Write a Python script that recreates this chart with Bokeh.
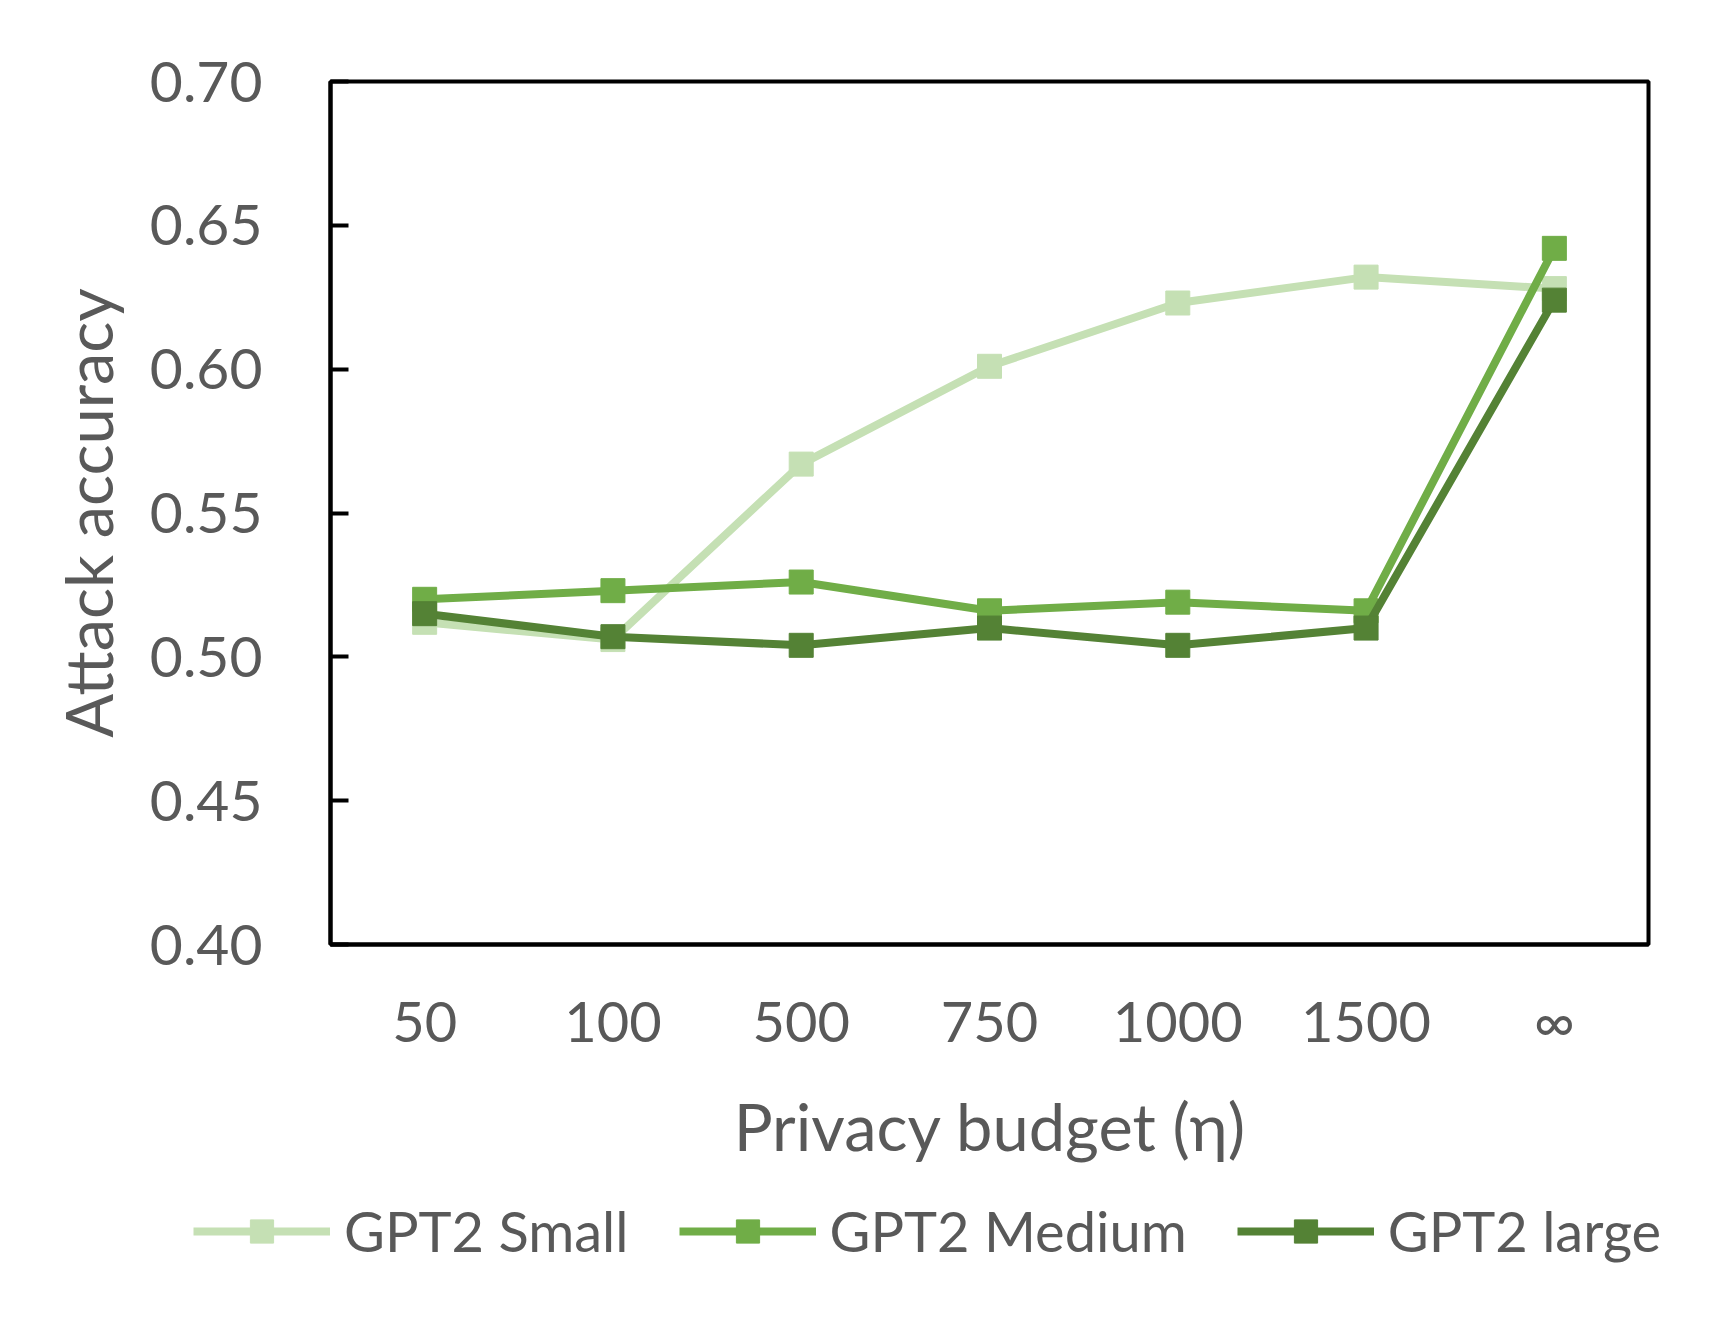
from bokeh.plotting import figure
from bokeh.layouts import column
from bokeh.models import FactorRange, Range1d, FixedTicker, NumeralTickFormatter, Legend, LegendItem
from bokeh.embed import file_html
from bokeh.resources import INLINE

budgets = ["50", "100", "500", "750", "1000", "1500", "∞"]
gpt2_small = [0.512, 0.506, 0.567, 0.601, 0.623, 0.632, 0.628]
gpt2_medium = [0.520, 0.523, 0.526, 0.516, 0.519, 0.516, 0.642]
gpt2_large = [0.515, 0.507, 0.504, 0.510, 0.504, 0.510, 0.624]
series_names = ["GPT2 Small", "GPT2 Medium", "GPT2 large"]
series_colors = ["#C5E0B4", "#70AD47", "#548235"]
y_ticks = [0.40, 0.45, 0.50, 0.55, 0.60, 0.65, 0.70]

FONT = "Lato"
TXT = "#595959"

p = figure(x_range=FactorRange(*budgets), y_range=Range1d(0.40, 0.70),
           frame_width=1318, frame_height=863,
           min_border_left=330, min_border_right=57, min_border_top=81, min_border_bottom=246,
           output_backend="svg", toolbar_location=None,
           background_fill_color="white", border_fill_color="white")

p.xgrid.visible = False
p.ygrid.visible = False
p.outline_line_color = "black"
p.outline_line_width = 4
p.outline_line_alpha = 1.0

for vals, col in zip([gpt2_small, gpt2_medium, gpt2_large], series_colors):
    p.line(budgets, vals, line_color=col, line_width=8)
    p.scatter(budgets, vals, marker="square", size=24, fill_color=col, line_color=col)

# y axis
ya = p.yaxis[0]
ya.ticker = FixedTicker(ticks=y_ticks)
ya.formatter = NumeralTickFormatter(format="0.00")
ya.major_tick_in = 18
ya.major_tick_out = 0
ya.minor_tick_line_color = None
ya.major_tick_line_width = 4
ya.axis_line_width = 4
ya.axis_line_color = "black"
ya.major_tick_line_color = "black"
ya.major_label_standoff = 68
ya.major_label_text_font = FONT
ya.major_label_text_font_size = "57px"
ya.major_label_text_color = TXT
ya.axis_label = "Attack accuracy"
ya.axis_label_text_font = FONT
ya.axis_label_text_font_size = "65px"
ya.axis_label_text_font_style = "normal"
ya.axis_label_text_color = TXT
ya.axis_label_standoff = 20

# x axis
xa = p.xaxis[0]
xa.major_tick_in = 0
xa.major_tick_out = 0
xa.minor_tick_line_color = None
xa.axis_line_width = 4
xa.axis_line_color = "black"
xa.major_label_standoff = 42
xa.major_label_text_font = FONT
xa.major_label_text_font_size = "56px"
xa.major_label_text_color = TXT
xa.axis_label = "Privacy budget (η)"
xa.axis_label_text_font = FONT
xa.axis_label_text_font_size = "65px"
xa.axis_label_text_font_style = "normal"
xa.axis_label_text_color = TXT
xa.axis_label_standoff = 30

# legend strip below the chart (its own figure so the legend is not clipped)
lf = figure(x_range=FactorRange(*budgets), y_range=Range1d(10.0, 11.0),
            frame_width=1705, frame_height=130,
            min_border_left=0, min_border_right=0, min_border_top=0, min_border_bottom=0,
            x_axis_type=None, y_axis_type=None,
            output_backend="svg", toolbar_location=None,
            background_fill_color="white", border_fill_color="white")
lf.xgrid.visible = False
lf.ygrid.visible = False
lf.outline_line_color = None

items = []
for vals, name, col in zip([gpt2_small, gpt2_medium, gpt2_large], series_names, series_colors):
    r1 = lf.line(budgets, vals, line_color=col, line_width=8)
    r2 = lf.scatter(budgets, vals, marker="square", size=24, fill_color=col, line_color=col)
    items.append(LegendItem(label=name, renderers=[r1, r2]))

legend = Legend(items=items, orientation="horizontal", location=(193, 56),
                glyph_width=137, glyph_height=58, label_standoff=14, spacing=50,
                padding=0, margin=0, border_line_color=None, background_fill_alpha=0,
                label_text_font=FONT, label_text_font_size="56px", label_text_color=TXT)
lf.add_layout(legend, "center")

layout = column(p, lf, spacing=0)
open("out.html", "w").write(file_html(layout, INLINE))
